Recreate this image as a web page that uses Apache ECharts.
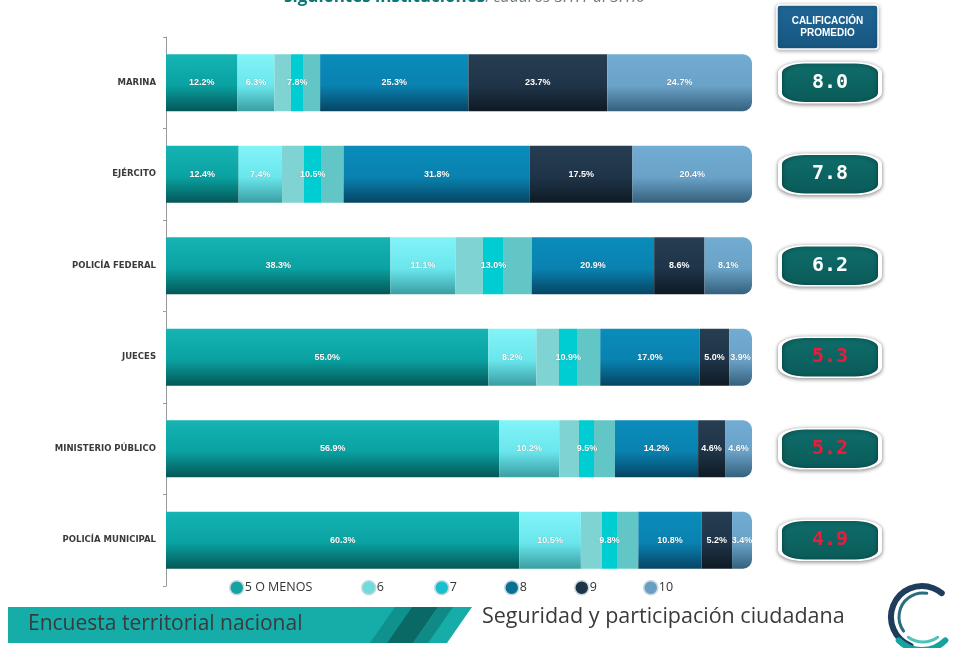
<!DOCTYPE html>
<html>
<head>
<meta charset="utf-8">
<script src="https://cdn.jsdelivr.net/npm/echarts@6/dist/echarts.min.js"></script>
<style>
html,body{margin:0;padding:0;background:#fff;}
#chart{width:958px;height:648px;}
</style>
</head>
<body>
<div id="chart"></div>
<script>
// ---- data ----
var categories = ['MARINA', 'EJÉRCITO', 'POLICÍA FEDERAL', 'JUECES', 'MINISTERIO PÚBLICO', 'POLICÍA MUNICIPAL'];
var seriesNames = ['5 O MENOS', '6', '7', '8', '9', '10'];
var s5menos = [12.2, 12.4, 38.3, 55.0, 56.9, 60.3];
var s6 = [6.3, 7.4, 11.1, 8.2, 10.2, 10.5];
var s7 = [7.8, 10.5, 13.0, 10.9, 9.5, 9.8];
var s8 = [25.3, 31.8, 20.9, 17.0, 14.2, 10.8];
var s9 = [23.7, 17.5, 8.6, 5.0, 4.6, 5.2];
var s10 = [24.7, 20.4, 8.1, 3.9, 4.6, 3.4];
var promedio = [8.0, 7.8, 6.2, 5.3, 5.2, 4.9];
var promedioRed = [false, false, false, true, true, true];

// ---- styles ----
function vgrad(a, b, c) {
  return new echarts.graphic.LinearGradient(0, 0, 0, 1, [
    {offset: 0, color: a}, {offset: 0.55, color: b}, {offset: 1, color: c}
  ]);
}
var colors = [
  vgrad('#16b4b4', '#0aa1a1', '#045656'),
  vgrad('#82f4f8', '#6ae6ec', '#3a9ea2'),
  new echarts.graphic.LinearGradient(0, 0, 1, 0, [
    {offset: 0, color: '#7fd3d3'}, {offset: 0.36, color: '#7fd3d3'},
    {offset: 0.36, color: '#00cdd2'}, {offset: 0.63, color: '#00cdd2'},
    {offset: 0.63, color: '#62c6c6'}, {offset: 1, color: '#62c6c6'}
  ]),
  vgrad('#0a8cba', '#0982b0', '#064463'),
  vgrad('#263d52', '#1f3448', '#0e1a24'),
  vgrad('#72acd2', '#6aa2c8', '#35607c')
];
var legendColors = ['#14a3a3', '#6fdcdc', '#19bfcc', '#0b6f94', '#1d3447', '#6a9fc4'];
var legendX = [229, 361, 434, 504, 574, 643];
var seriesData = [s5menos, s6, s7, s8, s9, s10];

var chart = echarts.init(document.getElementById('chart'), null, {renderer: 'canvas'});

var GRID_TOP = 37, GRID_H = 549;

var series = seriesNames.map(function (name, i) {
  return {
    name: name,
    type: 'bar',
    stack: 'total',
    barWidth: 57,
    xAxisIndex: 0,
    yAxisIndex: 0,
    data: seriesData[i],
    itemStyle: {
      color: colors[i],
      borderRadius: i === 5 ? [0, 9, 9, 0] : 0
    },
    label: {
      show: true,
      position: 'inside',
      color: '#ffffff',
      fontFamily: 'Liberation Sans',
      fontWeight: 'bold',
      fontSize: 9,
      textShadowColor: 'rgba(0,0,0,0.35)',
      textShadowBlur: 1,
      formatter: function (p) { return p.value.toFixed(1) + '%'; }
    },
    emphasis: {disabled: true}
  };
});

series.push({
  type: 'scatter',
  xAxisIndex: 1,
  yAxisIndex: 1,
  symbol: 'roundRect',
  symbolSize: [100, 40],
  data: promedio.map(function (v, i) {
    return {
      value: [0.5, categories[i]],
      score: v,
      label: {color: promedioRed[i] ? '#ec1c3a' : '#ffffff'}
    };
  }),
  itemStyle: {
    opacity: 1,
    color: new echarts.graphic.LinearGradient(0, 0, 0, 1, [
      {offset: 0, color: '#0f6e6b'}, {offset: 1, color: '#0a5a58'}
    ]),
    borderColor: '#ffffff',
    borderWidth: 2.5,
    shadowColor: 'rgba(0,0,0,0.45)',
    shadowBlur: 4,
    shadowOffsetY: 1
  },
  label: {
    show: true,
    position: 'inside',
    fontFamily: 'DejaVu Sans Mono',
    fontWeight: 'bold',
    fontSize: 20,
    formatter: function (p) { return p.data.score.toFixed(1); }
  },
  emphasis: {disabled: true}
});

var legends = seriesNames.map(function (name, i) {
  return {
    data: [name],
    left: legendX[i],
    top: 580,
    icon: 'circle',
    itemWidth: 14,
    itemHeight: 14,
    itemGap: 0,
    padding: 0,
    selectedMode: false,
    itemStyle: {
      color: legendColors[i],
      borderColor: '#c8d8e0',
      borderWidth: 1.5
    },
    textStyle: {
      fontFamily: 'Open Sans',
      fontSize: 12.5,
      color: '#333',
      padding: [0, 0, 0, -4]
    }
  };
});

var option = {
  animation: false,
  backgroundColor: '#ffffff',
  grid: [
    {left: 166, width: 586, top: GRID_TOP, height: GRID_H},
    {left: 779, width: 102, top: GRID_TOP, height: GRID_H}
  ],
  legend: legends,
  xAxis: [
    {type: 'value', gridIndex: 0, min: 0, max: 100, show: false},
    {type: 'value', gridIndex: 1, min: 0, max: 1, show: false}
  ],
  yAxis: [
    {
      type: 'category',
      gridIndex: 0,
      inverse: true,
      data: categories,
      axisLine: {show: true, lineStyle: {color: '#9a9a9a', width: 1}},
      axisTick: {show: true, length: 3, lineStyle: {color: '#9a9a9a'}},
      axisLabel: {
        fontFamily: 'DejaVu Sans',
        fontWeight: 'bold',
        fontSize: 8.5,
        color: '#3a3a3a',
        margin: 10
      }
    },
    {
      type: 'category',
      gridIndex: 1,
      inverse: true,
      data: categories,
      show: false
    }
  ],
  series: series,
  graphic: [
    // partially cropped title at top
    {
      type: 'text',
      left: 284,
      top: -11,
      style: {
        text: '{a|siguientes instituciones}{b|: cuadros 3.1.1 al 3.1.6}',
        rich: {
          a: {fontFamily: 'Open Sans', fontWeight: 'bold', fontSize: 17, fill: '#0e7877'},
          b: {fontFamily: 'Open Sans', fontStyle: 'italic', fontSize: 16, fill: '#6d7a80'}
        }
      }
    },
    // header box
    {
      type: 'rect',
      shape: {x: 777, y: 5, width: 101, height: 44, r: 3},
      style: {
        fill: new echarts.graphic.LinearGradient(0, 0, 0, 1, [
          {offset: 0, color: '#1f6796'}, {offset: 1, color: '#175680'}
        ]),
        stroke: '#ffffff', lineWidth: 1.5,
        shadowColor: 'rgba(0,0,0,0.35)', shadowBlur: 4, shadowOffsetY: 1
      }
    },
    {
      type: 'text',
      x: 827.5, y: 27,
      style: {
        text: 'CALIFICACIÓN\nPROMEDIO',
        align: 'center', verticalAlign: 'middle',
        fontFamily: 'Liberation Sans', fontWeight: 'bold', fontSize: 10,
        lineHeight: 12, fill: '#ffffff'
      }
    },
    // bottom banner
    {
      type: 'polygon',
      shape: {points: [[8, 607], [472, 607], [447, 643], [8, 643]]},
      style: {fill: '#16aca8'}
    },
    {
      type: 'polygon',
      shape: {points: [[395, 607], [412, 607], [387, 643], [370, 643]]},
      style: {fill: '#0f918d'}
    },
    {
      type: 'polygon',
      shape: {points: [[412, 607], [438, 607], [413, 643], [387, 643]]},
      style: {fill: '#0b6965'}
    },
    {
      type: 'polygon',
      shape: {points: [[438, 607], [453, 607], [428, 643], [413, 643]]},
      style: {fill: '#0f8a87'}
    },
    {
      type: 'text',
      left: 28, top: 614,
      style: {text: 'Encuesta territorial nacional', fontFamily: 'Open Sans', fontSize: 21, fill: '#3a3a3a'}
    },
    {
      type: 'text',
      left: 482, top: 606,
      style: {text: 'Seguridad y participación ciudadana', fontFamily: 'Open Sans', fontSize: 21.5, fill: '#3a3a3a'}
    },
    // logo rings
    {
      type: 'arc',
      shape: {cx: 922, cy: 617, r: 31, startAngle: Math.PI * 0.62, endAngle: Math.PI * 1.72},
      style: {stroke: '#1e3d5c', lineWidth: 6, fill: null, lineCap: 'round'}
    },
    {
      type: 'arc',
      shape: {cx: 922, cy: 617, r: 33, startAngle: Math.PI * 0.25, endAngle: Math.PI * 0.75},
      style: {stroke: '#17a39d', lineWidth: 6, fill: null, lineCap: 'round'}
    },
    {
      type: 'arc',
      shape: {cx: 923, cy: 617, r: 24, startAngle: Math.PI * 0.8, endAngle: Math.PI * 1.55},
      style: {stroke: '#2a6c80', lineWidth: 3, fill: null, lineCap: 'round'}
    },
    {
      type: 'arc',
      shape: {cx: 923, cy: 617, r: 25, startAngle: Math.PI * 0.3, endAngle: Math.PI * 0.7},
      style: {stroke: '#4fc2bb', lineWidth: 3, fill: null, lineCap: 'round'}
    }
  ]
};

chart.setOption(option);
</script>
</body>
</html>
